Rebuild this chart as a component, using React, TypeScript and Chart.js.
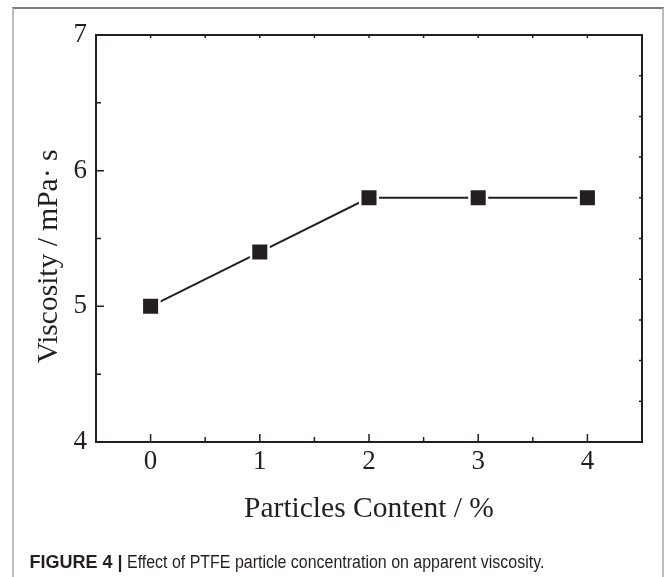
import React, { useEffect, useRef } from 'react';
import { Chart, registerables } from 'chart.js';

Chart.register(...registerables);

// ---- data ----
const contentPct = [0, 1, 2, 3, 4];
const viscosity = [5.0, 5.4, 5.8, 5.8, 5.8];
const xTickValues = [0, 1, 2, 3, 4];
const yTickValues = [4, 5, 6, 7];
const xMinorTicks = [0.5, 1.5, 2.5, 3.5];
const xTopTicks = [0, 0.5, 1, 1.5, 2, 2.5, 3, 3.5, 4];
const yMinorTicks = [4.5, 5.5, 6.5];
const yRightTicks = [4.3, 4.6, 4.9, 5.2, 5.5, 5.8, 6.1, 6.4, 6.7];
const xTitle = 'Particles Content / %';
const yTitle = 'Viscosity / mPa\u00b7 s';
const captionBold = 'FIGURE 4 |';
const captionText = 'Effect of PTFE particle concentration on apparent viscosity.';

const INK = '#231f20';
const SERIF = '"Liberation Serif", "Times New Roman", serif';
const SANS = '"Liberation Sans", Arial, sans-serif';

const frameTicks = {
  id: 'frameTicks',
  afterDatasetsDraw(chart: any) {
    const { ctx, chartArea: a, scales } = chart;
    const x = scales.x;
    const y = scales.y;
    ctx.save();
    ctx.strokeStyle = INK;
    ctx.lineWidth = 2;
    ctx.strokeRect(a.left, a.top, a.right - a.left, a.bottom - a.top);
    ctx.lineWidth = 1.5;
    ctx.beginPath();
    xTickValues.forEach((v) => {
      const p = x.getPixelForValue(v);
      ctx.moveTo(p, a.bottom);
      ctx.lineTo(p, a.bottom - 8);
    });
    xMinorTicks.forEach((v) => {
      const p = x.getPixelForValue(v);
      ctx.moveTo(p, a.bottom);
      ctx.lineTo(p, a.bottom - 5);
    });
    xTopTicks.forEach((v) => {
      const p = x.getPixelForValue(v);
      ctx.moveTo(p, a.top);
      ctx.lineTo(p, a.top + 3);
    });
    yTickValues.forEach((v) => {
      const p = y.getPixelForValue(v);
      ctx.moveTo(a.left, p);
      ctx.lineTo(a.left + 8, p);
    });
    yMinorTicks.forEach((v) => {
      const p = y.getPixelForValue(v);
      ctx.moveTo(a.left, p);
      ctx.lineTo(a.left + 5, p);
    });
    yRightTicks.forEach((v) => {
      const p = y.getPixelForValue(v);
      ctx.moveTo(a.right, p);
      ctx.lineTo(a.right - 3, p);
    });
    ctx.stroke();

    ctx.fillStyle = INK;
    ctx.font = '29.5px ' + SERIF;
    ctx.textAlign = 'center';
    ctx.textBaseline = 'alphabetic';
    ctx.fillText(xTitle, (a.left + a.right) / 2, a.bottom + 75);
    ctx.translate(a.left - 39, (a.top + a.bottom) / 2 + 18);
    ctx.rotate(-Math.PI / 2);
    ctx.fillText(yTitle, 0, 0);
    ctx.restore();
  },
};

export default function App() {
  const canvasRef = useRef<HTMLCanvasElement | null>(null);

  useEffect(() => {
    const canvas = canvasRef.current;
    if (!canvas) return;
    const chart = new Chart(canvas, {
      type: 'line',
      data: {
        datasets: [
          {
            data: contentPct.map((c, i) => ({ x: c, y: viscosity[i] })),
            borderColor: INK,
            borderWidth: 2,
            tension: 0,
            pointStyle: 'rect',
            pointRadius: 12.4,
            pointHoverRadius: 12.4,
            pointBackgroundColor: INK,
            pointBorderColor: '#ffffff',
            pointBorderWidth: 2.5,
          },
        ],
      },
      options: {
        animation: false,
        responsive: false,
        events: [],
        layout: { padding: { left: 0, top: 35, right: 23, bottom: 0 } },
        plugins: {
          legend: { display: false },
          tooltip: { enabled: false },
        },
        scales: {
          x: {
            type: 'linear',
            min: -0.5,
            max: 4.5,
            grid: { display: false, drawTicks: false },
            border: { display: false },
            afterBuildTicks: (s: any) => {
              s.ticks = xTickValues.map((v) => ({ value: v }));
            },
            afterFit: (s: any) => {
              s.height = 135;
            },
            ticks: {
              color: INK,
              padding: 4,
              autoSkip: false,
              maxRotation: 0,
              font: { family: SERIF, size: 27 },
              callback: (v: any) => String(v),
            },
          },
          y: {
            type: 'linear',
            min: 4,
            max: 7,
            grid: { display: false, drawTicks: false },
            border: { display: false },
            afterBuildTicks: (s: any) => {
              s.ticks = yTickValues.map((v) => ({ value: v }));
            },
            afterFit: (s: any) => {
              s.width = 96;
            },
            ticks: {
              color: INK,
              padding: 9,
              font: { family: SERIF, size: 27 },
              callback: (v: any) => String(v),
            },
          },
        },
      },
      plugins: [frameTicks],
    });
    return () => chart.destroy();
  }, []);

  return (
    <div
      style={{
        position: 'absolute',
        left: 0,
        top: 0,
        width: 665,
        height: 577,
        overflow: 'hidden',
        background: '#ffffff',
      }}
    >
      <div
        style={{
          position: 'absolute',
          left: 12,
          top: 7,
          width: 648,
          height: 620,
          borderTop: '2px solid #7a7a7a',
          borderLeft: '2px solid #bdbdbd',
          borderRight: '2px solid #bdbdbd',
        }}
      />
      <canvas
        ref={canvasRef}
        width={665}
        height={577}
        style={{ position: 'absolute', left: 0, top: 0, width: 665, height: 577 }}
      />
      <div
        style={{
          position: 'absolute',
          left: 29.5,
          top: 553,
          fontFamily: SANS,
          fontSize: 18,
          lineHeight: '18px',
          fontWeight: 700,
          color: INK,
          whiteSpace: 'nowrap',
        }}
      >
        {captionBold}
      </div>
      <div
        style={{
          position: 'absolute',
          left: 126.5,
          top: 553,
          fontFamily: SANS,
          fontSize: 18,
          lineHeight: '18px',
          color: INK,
          whiteSpace: 'nowrap',
          transform: 'scaleX(0.887)',
          transformOrigin: 'left top',
        }}
      >
        {captionText}
      </div>
    </div>
  );
}
